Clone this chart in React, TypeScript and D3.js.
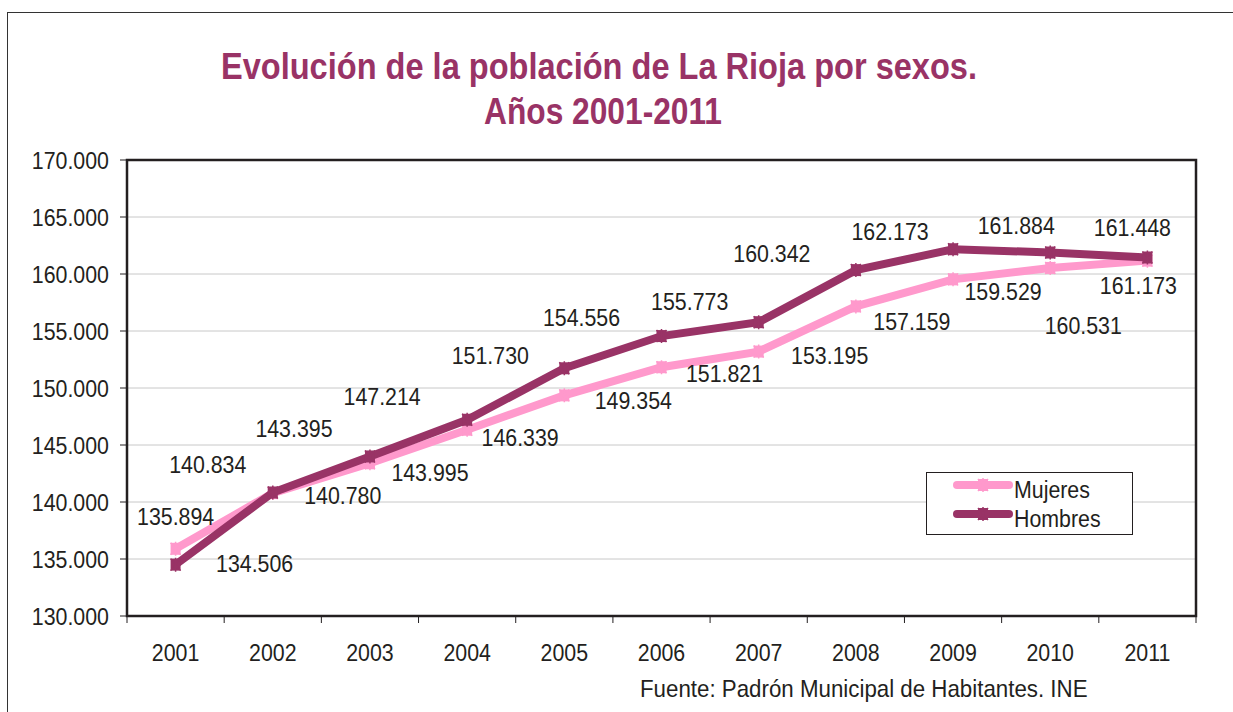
import React from 'react';
import * as d3 from 'd3';

const years = ['2001', '2002', '2003', '2004', '2005', '2006', '2007', '2008', '2009', '2010', '2011'];
const mujeres = [135894, 140780, 143395, 146339, 149354, 151821, 153195, 157159, 159529, 160531, 161173];
const hombres = [134506, 140834, 143995, 147214, 151730, 154556, 155773, 160342, 162173, 161884, 161448];
const yTicks = [130000, 135000, 140000, 145000, 150000, 155000, 160000, 165000, 170000];

// label offsets (px) from each point, as Excel left them
const mujeresLabelOffset: [number, number][] = [
  [0, -32], [70, 2], [-76, -35], [53, 8], [69, 5], [63, 6], [71, 4], [56, 15], [50, 12], [33, 57], [-9, 25]
];
const hombresLabelOffset: [number, number][] = [
  [79, -1], [-65, -28], [60, 16], [-85, -23], [-74, -13], [-80, -19], [-69, -21], [-84, -17], [-63, -18], [-34, -27], [-15, -30]
];

const PINK = '#ff99cc';
const PLUM = '#993366';
const INK = '#231f20';
const FONT = '"Liberation Sans", Arial, Helvetica, sans-serif';

const fmt = d3.formatLocale({ decimal: ',', thousands: '.', grouping: [3], currency: ['', '€'] }).format(',d');

// narrow-looking text, like the condensed Helvetica of the original
const NText: React.FC<{
  x: number; y: number; anchor?: 'start' | 'middle' | 'end'; size?: number; sx?: number; dy?: string; children: React.ReactNode;
}> = ({ x, y, anchor = 'middle', size = 24, sx = 0.89, dy, children }) => (
  <text
    transform={`translate(${x},${y}) scale(${sx},1)`}
    textAnchor={anchor}
    fontSize={size}
    fontFamily={FONT}
    fill={INK}
    dy={dy}
  >
    {children}
  </text>
);

const Marker: React.FC<{ x: number; y: number; color: string }> = ({ x, y, color }) => (
  <g transform={`translate(${x},${y})`}>
    <rect x={-5} y={-6} width={10} height={12} fill={color} />
    <path d="M-5,-6L5,6M5,-6L-5,6M0,-7V7" stroke={color} strokeWidth={1.5} />
  </g>
);

export default function App() {
  const width = 1233;
  const height = 712;
  const plot = { left: 127, right: 1196, top: 160, bottom: 616 };

  const x = d3.scaleBand<string>().domain(years).range([plot.left, plot.right]).padding(0);
  const y = d3.scaleLinear().domain([130000, 170000]).range([plot.bottom, plot.top]);
  const cx = (i: number) => (x(years[i]) as number) + x.bandwidth() / 2;

  const line = d3.line<number>().x((_, i) => cx(i)).y(d => y(d));

  const series = [
    { name: 'Mujeres', values: mujeres, color: PINK, offsets: mujeresLabelOffset },
    { name: 'Hombres', values: hombres, color: PLUM, offsets: hombresLabelOffset }
  ];

  const xTickPos = years.map(yr => x(yr) as number).concat([plot.right]);

  return (
    <svg width={width} height={height} style={{ position: 'absolute', left: 0, top: 0, background: '#fff' }}>
      <rect x={0} y={0} width={width} height={height} fill="#fff" />
      {/* outer frame */}
      <rect x={7.5} y={12.5} width={1300} height={800} fill="none" stroke="#333" strokeWidth={1} />

      {/* title */}
      <text x={599} y={79} textAnchor="middle" fontFamily={FONT} fontWeight="bold" fontSize={36} fill={PLUM}
        textLength={756} lengthAdjust="spacingAndGlyphs">
        Evolución de la población de La Rioja por sexos.
      </text>
      <text x={603} y={124} textAnchor="middle" fontFamily={FONT} fontWeight="bold" fontSize={36} fill={PLUM}
        textLength={238} lengthAdjust="spacingAndGlyphs">
        Años 2001-2011
      </text>

      {/* gridlines */}
      {yTicks.filter(t => t > 130000 && t < 170000).map(t => (
        <line key={t} x1={plot.left} x2={plot.right} y1={y(t)} y2={y(t)} stroke="#c8c8c8" strokeWidth={1} />
      ))}

      {/* y ticks + labels */}
      {yTicks.map(t => (
        <g key={t}>
          <line x1={plot.left - 7} x2={plot.left} y1={y(t)} y2={y(t)} stroke={INK} strokeWidth={1} />
          <NText x={109} y={y(t)} anchor="end" dy="0.36em">{fmt(t)}</NText>
        </g>
      ))}

      {/* x ticks + labels */}
      {xTickPos.map((p, i) => (
        <line key={i} x1={p} x2={p} y1={plot.bottom} y2={plot.bottom + 7} stroke={INK} strokeWidth={1} />
      ))}
      {years.map((yr, i) => (
        <NText key={yr} x={cx(i)} y={661}>{yr}</NText>
      ))}

      {/* plot frame */}
      <rect x={plot.left} y={plot.top} width={plot.right - plot.left} height={plot.bottom - plot.top}
        fill="none" stroke={INK} strokeWidth={2.5} />

      {/* lines */}
      {series.map(s => (
        <g key={s.name}>
          <path d={line(s.values) || ''} fill="none" stroke={s.color} strokeWidth={8} strokeLinejoin="miter" />
          {s.values.map((v, i) => <Marker key={i} x={cx(i)} y={y(v)} color={s.color} />)}
        </g>
      ))}

      {/* data labels */}
      {series.map(s => s.values.map((v, i) => (
        <NText key={s.name + i} x={cx(i) + s.offsets[i][0]} y={y(v) + s.offsets[i][1]} dy="0.36em">{fmt(v)}</NText>
      )))}

      {/* legend */}
      <rect x={926.5} y={472.5} width={206} height={62} fill="#fff" stroke={INK} strokeWidth={1} />
      {series.map((s, i) => {
        const ly = 485 + i * 29;
        return (
          <g key={s.name}>
            <line x1={957} x2={1009} y1={ly} y2={ly} stroke={s.color} strokeWidth={8} strokeLinecap="round" />
            <Marker x={983} y={ly} color={s.color} />
            <NText x={1014} y={ly + 4} anchor="start" dy="0.36em">{s.name}</NText>
          </g>
        );
      })}

      {/* source */}
      <NText x={640} y={697} anchor="start" sx={0.93}>Fuente: Padrón Municipal de Habitantes. INE</NText>
    </svg>
  );
}
